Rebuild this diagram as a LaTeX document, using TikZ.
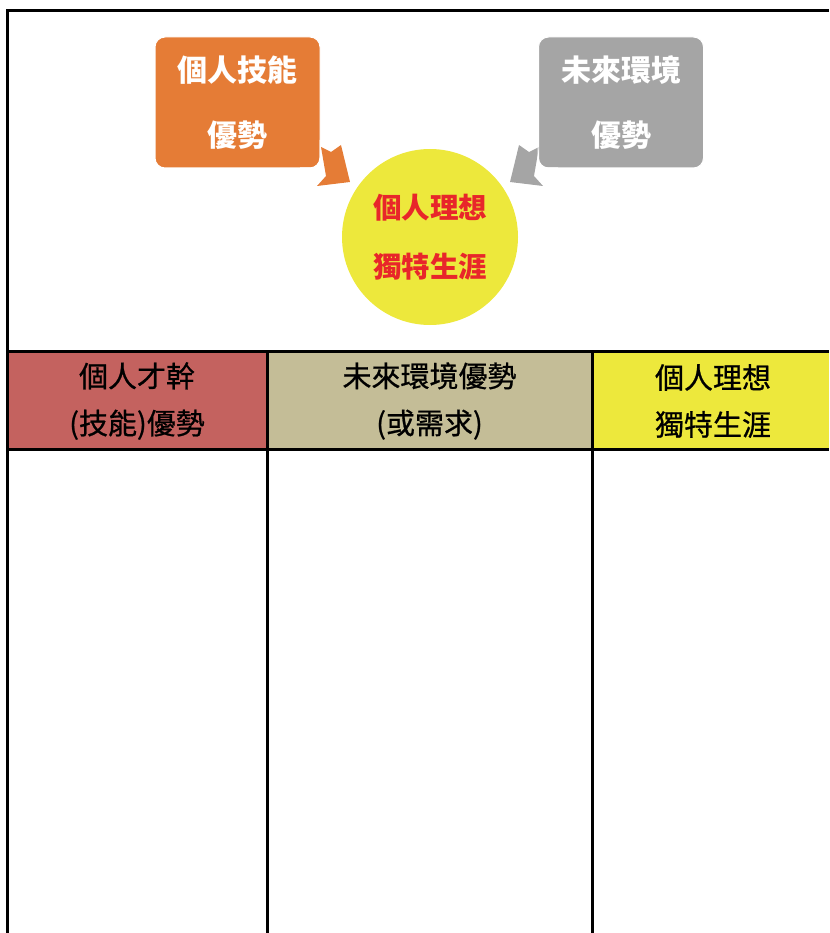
\documentclass[tikz,border=0pt]{standalone}
\usepackage{fontspec}
\newfontfamily\cjk{Noto Sans CJK TC}
\newfontfamily\cjkhead{Noto Sans CJK TC}[FakeBold=0.8]
\usetikzlibrary{positioning}
\definecolor{skillorange}{HTML}{E57C36}
\definecolor{envgray}{HTML}{A5A5A5}
\definecolor{idealyellow}{HTML}{EDE83C}
\definecolor{idealred}{HTML}{E8262A}
\definecolor{headred}{HTML}{C4625F}
\definecolor{headtan}{HTML}{C4BD97}

\begin{document}
\begin{tikzpicture}[x=1pt, y=-1pt,
    topbox/.style={rounded corners=10pt, draw=white, line width=1pt, minimum width=165pt, minimum height=131pt, align=center, text=white, font=\cjk\bfseries\fontsize{30}{65}\selectfont},
    ideal/.style={circle, minimum size=176pt, fill=idealyellow, align=center, text=idealred, font=\cjk\bfseries\fontsize{28.5}{59}\selectfont},
    headcell/.style={minimum height=98pt, inner sep=0pt, align=center, font=\cjkhead\fontsize{29}{47}\selectfont},
    grid/.style={line width=3pt}]
    \useasboundingbox (0,0) rectangle (829,933);
    % top part: two sources and the goal
    \node[topbox, fill=skillorange] (skill) at (237.5,102.5) {個人技能\\優勢};
    \node[topbox, fill=envgray] (env) at (621,102.5) {未來環境\\優勢};
    \node[ideal] (goal) at (430,237) {個人理想\\獨特生涯};
    \fill[skillorange] (321,147) -- (331,152) -- (341,145) -- (350,182) -- (317,186) -- (326,176) -- cycle;
    \fill[envgray] (539,147) -- (529,152) -- (519,145) -- (510,182) -- (543,186) -- (534,176) -- cycle;
    \draw[white, line width=1pt, rounded corners=10pt] (320,140) -- (320,168) -- (300,168);
    \draw[white, line width=1pt, rounded corners=10pt] (538,140) -- (538,168) -- (558,168);
    % table header
    \node[headcell, fill=headred, minimum width=260pt] (h1) at (137,401) {個人才幹\\(技能)優勢};
    \node[headcell, fill=headtan, minimum width=325pt] (h2) at (429.5,401) {未來環境優勢\\(或需求)};
    \fill[idealyellow] (592,351) rectangle (829,449);
    \node[headcell] (h3) at (713,401) {個人理想\\獨特生涯};
    % grid lines
    \draw[grid] (7,933) -- (7,11) -- (829,11);
    \draw[grid] (7,351) -- (829,351);
    \draw[grid] (7,449) -- (829,449);
    \draw[grid] (267,351) -- (267,933);
    \draw[grid] (592,351) -- (592,933);
\end{tikzpicture}
\end{document}
